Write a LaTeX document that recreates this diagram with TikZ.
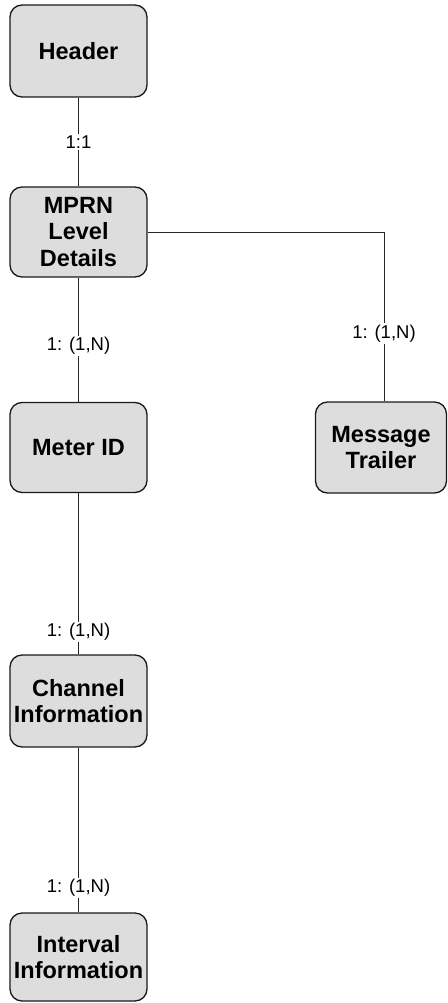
\documentclass[tikz,border=0pt]{standalone}
\usepackage{fontspec}
\setmainfont{Liberation Sans}
\begin{document}
\begin{tikzpicture}[x=1pt,y=-1pt,
  entity/.style={draw=black!90, line width=1.3pt, fill=boxgray, rounded corners=12pt,
     align=center, font=\fontsize{23.5}{26.8}\selectfont\bfseries, inner sep=0pt},
  conn/.style={draw=black!85, line width=0.8pt},
  card/.style={fill=white, inner sep=1.5pt, font=\fontsize{18.5}{20}\selectfont}]
\definecolor{boxgray}{HTML}{DDDDDD}
\useasboundingbox (0,0) rectangle (447,1003);
\node[entity, minimum width=137pt, minimum height=92pt] (header) at (78.5,51) {Header};
\node[entity, minimum width=137pt, minimum height=90pt] (mprn) at (78.5,232) {MPRN\\Level\\Details};
\node[entity, minimum width=137pt, minimum height=90pt] (meter) at (78.5,447.5) {Meter ID};
\node[entity, minimum width=131pt, minimum height=91pt] (trailer) at (381,447.5) {Message\\Trailer};
\node[entity, minimum width=137pt, minimum height=92pt] (channel) at (78.5,701) {Channel\\Information};
\node[entity, minimum width=137pt, minimum height=88pt] (interval) at (78.5,957) {Interval\\Information};
\coordinate (corner) at (384,232);
\draw[conn] (header) -- (mprn) node[card, pos=0.5] {1:1};
\draw[conn] (mprn) -- (meter) node[card, pos=0.55] {1: (1,N)};
\draw[conn] (mprn.east) -- (corner) -- (trailer.north -| corner) node[card, pos=0.6] {1: (1,N)};
\draw[conn] (meter) -- (channel) node[card, pos=0.86] {1: (1,N)};
\draw[conn] (channel) -- (interval) node[card, pos=0.85] {1: (1,N)};
\end{tikzpicture}
\end{document}
